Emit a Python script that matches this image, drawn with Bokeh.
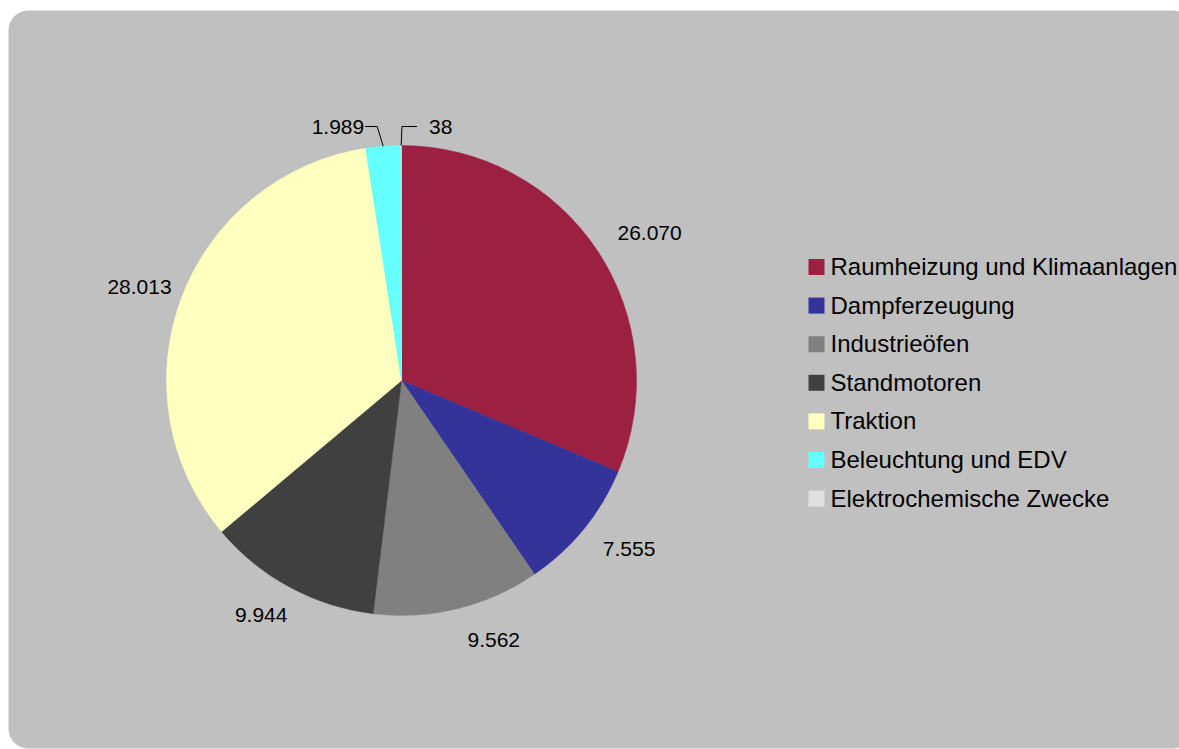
import math
from bokeh.plotting import figure
from bokeh.models import Range1d, BoxAnnotation, ColumnDataSource
from bokeh.core.properties import value
from bokeh.embed import file_html
from bokeh.resources import INLINE

# ---- data ----
categories = ["Raumheizung und Klimaanlagen", "Dampferzeugung", "Industrieöfen",
              "Standmotoren", "Traktion", "Beleuchtung und EDV", "Elektrochemische Zwecke"]
values = [26070, 7555, 9562, 9944, 28013, 1989, 38]
colors = ["#9C2041", "#333399", "#808080", "#404040", "#FFFFC0", "#66FFFF", "#E0E0E0"]

W, H = 1179, 749
FONT = "Liberation Sans"

p = figure(width=W, height=H, output_backend="svg", toolbar_location=None,
           x_range=Range1d(0, W), y_range=Range1d(0, H),
           x_axis_type=None, y_axis_type=None, min_border=0,
           outline_line_color=None, background_fill_color="white",
           border_fill_color="white")
p.grid.visible = False

# rounded gray panel
p.add_layout(BoxAnnotation(left=8, right=1192, bottom=1, top=739, border_radius=20,
                           fill_color="#C0C0C0", fill_alpha=1.0, line_color=None,
                           level="underlay"))

# ---- pie ----
cx, cy, R = 401, 369, 235
total = float(sum(values))
cum = [0.0]
for v in values:
    cum.append(cum[-1] + v)
a0 = [c / total * 2 * math.pi for c in cum[:-1]]
a1 = [c / total * 2 * math.pi for c in cum[1:]]
src = ColumnDataSource(dict(
    start=[math.pi / 2 - b for b in a1],
    end=[math.pi / 2 - a for a in a0],
    color=colors,
))
p.wedge(x=cx, y=cy, radius=R, start_angle="start", end_angle="end",
        fill_color="color", line_color="color", line_width=0.5, source=src)

# ---- data labels ----
def fmt(v):
    return f"{v:,}".replace(",", ".")

lab_x, lab_y, lab_t, lab_align = [], [], [], []
for i, v in enumerate(values):
    th = (a0[i] + a1[i]) / 2
    s, c = math.sin(th), math.cos(th)
    if v / total >= 0.03:
        lab_x.append(cx + 252 * s + 6)
        lab_y.append(cy + 267 * c)
        lab_t.append(fmt(v))
        lab_align.append("left" if s > 0 else "right")
    else:
        level = cy + 254
        ax, ay = cx + R * s, cy + R * c
        side = -1 if s < -0.01 else 1
        ex = ax - 6 if side < 0 else ax + 0.8
        hx = ex + side * (12 if side < 0 else 15)
        p.line(x=[ax, ex, hx], y=[ay, level, level], line_color="black", line_width=1)
        lab_x.append(hx - 1 if side < 0 else hx + 12)
        lab_y.append(level)
        lab_t.append(fmt(v))
        lab_align.append("right" if side < 0 else "left")

p.text(x=lab_x, y=lab_y, text=lab_t, text_align=lab_align, text_baseline="middle",
       text_font=value(FONT), text_font_size="21px", text_color="black")

# ---- legend ----
leg_y = [H - 266.5 - 38.6 * i for i in range(len(categories))]
p.rect(x=[816] * len(categories), y=leg_y, width=16, height=16,
       fill_color=colors, line_color=None)
p.text(x=[830] * len(categories), y=[y + 0.5 for y in leg_y], text=categories,
       text_align="left", text_baseline="middle",
       text_font=value(FONT), text_font_size="24px", text_color="black")

open("out.html", "w").write(file_html(p, INLINE))
